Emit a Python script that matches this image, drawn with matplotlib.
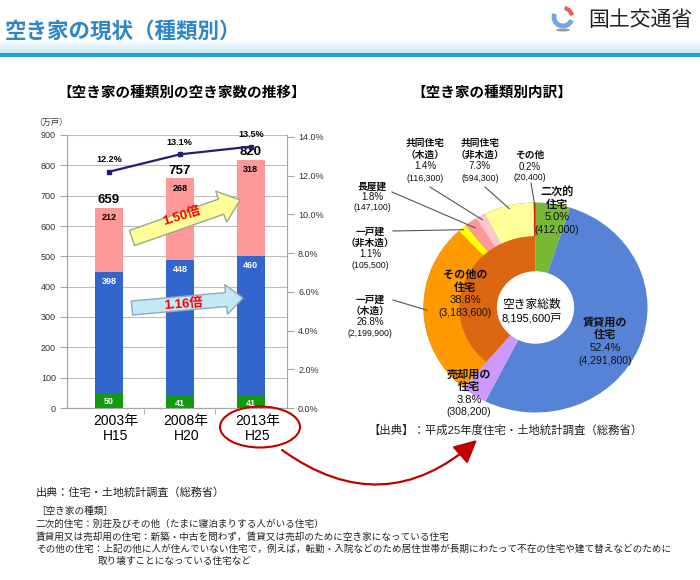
import numpy as np
import matplotlib
matplotlib.use('Agg')
import matplotlib.pyplot as plt
from matplotlib.patches import Polygon, Ellipse, FancyArrowPatch, Arc, Rectangle
from matplotlib.colors import LinearSegmentedColormap
from matplotlib.ticker import FuncFormatter

plt.rcParams['font.family'] = ['Liberation Sans', 'Noto Sans CJK JP', 'DejaVu Sans']

# ---- data: bar chart (万戸) ----
years = ['2003年\nH15', '2008年\nH20', '2013年\nH25']
second_homes = [50, 41, 41]
rental_sale = [398, 448, 460]
other_homes = [212, 268, 318]
totals = [659, 757, 820]
vacancy_rate = [12.2, 13.1, 13.5]
growth_labels = ['1.50倍', '1.16倍']

# ---- data: donut (戸) ----
main_names = ['二次的\n住宅', '賃貸用の\n住宅', '売却用の\n住宅', 'その他の\n住宅']
main_counts = [412000, 4291800, 308200, 3183600]
main_pct = [5.0, 52.4, 3.8, 38.8]
sub_names = ['一戸建\n（木造）', '一戸建\n（非木造）', '長屋建', '共同住宅\n（木造）', '共同住宅\n（非木造）', 'その他']
sub_counts = [2199900, 105500, 147100, 116300, 594300, 20400]
sub_pct = [26.8, 1.1, 1.8, 1.4, 7.3, 0.2]
total_count = 8195600

main_colors = ['#78B834', '#5783D6', '#CC99FF', '#DD6611']
sub_colors = ['#FF9900', '#FFFF00', '#FF9999', '#FFC8D0', '#FFFF99', '#FF0000']

fig = plt.figure(figsize=(7, 5.8), dpi=100)
fig.patch.set_facecolor('white')
grey = '#A6A6A6'

# ---- stacked bars ----
ax = fig.add_axes([67/700, 1-408/580, 220/700, 273/580])
x = np.arange(len(years))
w = 0.39
bot2 = np.array(second_homes)
bot3 = bot2 + np.array(rental_sale)
tops = bot3 + np.array(other_homes)
ax.bar(x, second_homes, w, color='#119911', zorder=2)
ax.bar(x, rental_sale, w, bottom=bot2, color='#3366CC', zorder=2)
ax.bar(x, other_homes, w, bottom=bot3, color='#FF9999', zorder=2)
ax.set_xlim(-0.59, 2.51)
ax.set_ylim(0, 900)
ax.set_yticks(range(0, 901, 100))
ax.yaxis.grid(True, color='#BFBFBF', lw=0.8)
ax.set_axisbelow(True)
ax.set_xticks(x + 0.09, years)
ax.set_xticks([0.5, 1.5], minor=True)
ax.tick_params(axis='x', which='major', length=0, pad=4, labelsize=10)
ax.tick_params(axis='x', which='minor', length=4, color=grey)
ax.tick_params(axis='y', length=5, color=grey, labelsize=6.5, labelcolor='#333333', pad=3)
for lbl in ax.get_xticklabels():
    lbl.set_linespacing(1.1)
for s in ['left', 'bottom', 'right']:
    ax.spines[s].set_color(grey)
ax.spines['top'].set_visible(False)

for i in x:
    ax.annotate(f'{totals[i]}', (i, tops[i]), xytext=(0, 1), textcoords='offset points',
                ha='center', va='bottom', fontsize=9.5, fontweight='bold')
    ax.annotate(f'{other_homes[i]}', (i, tops[i]), xytext=(0, -7), textcoords='offset points',
                ha='center', va='center', fontsize=6.5, fontweight='bold', color='black')
    ax.annotate(f'{rental_sale[i]}', (i, bot3[i]), xytext=(0, -7), textcoords='offset points',
                ha='center', va='center', fontsize=6.5, fontweight='bold', color='white')
    ax.annotate(f'{second_homes[i]}', (i, bot2[i]), xytext=(0, -6), textcoords='offset points',
                ha='center', va='center', fontsize=6.5, fontweight='bold', color='white')

ax2 = ax.twinx()
ax2.plot(x, vacancy_rate, color='#1F1F78', lw=1.6, marker='s', ms=3.5)
ax2.set_ylim(0, 14.1)
ax2.set_yticks(np.arange(0, 14.1, 2))
ax2.yaxis.set_major_formatter(FuncFormatter(lambda v, _: f'{v:.1f}%'))
ax2.tick_params(axis='y', length=5, color=grey, labelsize=6.5, labelcolor='#333333', pad=3)
for s in ['left', 'bottom', 'right']:
    ax2.spines[s].set_color(grey)
ax2.spines['top'].set_visible(False)
for i in x:
    ax2.annotate(f'{vacancy_rate[i]}%', (i, vacancy_rate[i]), xytext=(0, 8.5), textcoords='offset points',
                 ha='center', va='center', fontsize=6.5, fontweight='bold')

# ---- donut ----
CX, CY, RX, RY = 535.5, 307.5, 112, 105
axp = fig.add_axes([(CX-RX)/700, 1-(CY+RY)/580, 2*RX/700, 2*RY/580])
axp.pie(main_counts, colors=main_colors, radius=1, startangle=90, counterclock=False,
        wedgeprops=dict(width=0.655, linewidth=0))
axp.pie([sum(main_counts[:3])] + sub_counts, colors=['none'] + sub_colors, radius=1,
        startangle=90, counterclock=False, wedgeprops=dict(width=0.32, linewidth=0))
axp.set_aspect('auto')
axp.set_xlim(-1, 1)
axp.set_ylim(-1, 1)

# ---- overlay in pixel coordinates ----
ov = fig.add_axes([0, 0, 1, 1], zorder=10)
ov.patch.set_alpha(0)
band = LinearSegmentedColormap.from_list('band', ['#FFFFFF', '#CDEBF7'])
ov.imshow(np.linspace(0, 1, 30).reshape(-1, 1), extent=(0, 700, 53, 39), cmap=band, aspect='auto')
ov.add_patch(Rectangle((0, 53), 700, 4, color='#1CA3D8', lw=0))
ov.set_xlim(0, 700)
ov.set_ylim(580, 0)
ov.axis('off')

ov.text(5, 32, '空き家の現状（種類別）', fontsize=15.5, fontweight='bold', color='#2D86CC', va='center')
ov.add_patch(Arc((563, 17), 18, 18, theta1=20, theta2=200, lw=3.5, color='#6FA8DC'))
ov.add_patch(Arc((563, 17), 18, 18, theta1=280, theta2=350, lw=3, color='#E06060'))
ov.add_patch(Ellipse((563, 30), 14, 3, color='#999999', lw=0))
ov.text(588, 20, '国土交通省', fontsize=15, color='#222222', va='center')

ov.text(182, 93, '【空き家の種類別の空き家数の推移】', fontsize=10.5, fontweight='bold', ha='center', va='center')
ov.text(492, 93, '【空き家の種類別内訳】', fontsize=10.5, fontweight='bold', ha='center', va='center')
ov.text(51, 123, '（万戸）', fontsize=6, ha='center', va='center', color='#333333')


def block_arrow(tail, tip, shaft_w, head_w, head_l, face, edge):
    tail = np.array(tail, float)
    tip = np.array(tip, float)
    d = tip - tail
    u = d / np.hypot(*d)
    n = np.array([-u[1], u[0]])
    base = tip - u * head_l
    pts = [tail + n*shaft_w/2, base + n*shaft_w/2, base + n*head_w/2, tip,
           base - n*head_w/2, base - n*shaft_w/2, tail - n*shaft_w/2]
    ov.add_patch(Polygon(pts, closed=True, facecolor=face, edgecolor=edge, lw=1))


block_arrow((132, 238), (240, 200), 16, 33, 20, '#FFFF99', '#9AA88A')
block_arrow((132, 308), (243, 298), 14, 30, 17, '#C4E9F6', '#8FAAB8')
ov.text(182, 216, growth_labels[0], fontsize=9.5, fontweight='bold', color='#FF0000',
        ha='center', va='center', rotation=17)
ov.text(183, 305, growth_labels[1], fontsize=9.5, fontweight='bold', color='#FF0000',
        ha='center', va='center', rotation=4)

ov.add_patch(Ellipse((260, 427), 80, 41, fill=False, edgecolor='#C00000', lw=1.5))
ov.add_patch(FancyArrowPatch((282, 450), (477, 440), connectionstyle='arc3,rad=0.4',
                             arrowstyle='-|>,head_length=14,head_width=7', mutation_scale=1,
                             color='#C00000', lw=1.6, shrinkA=0, shrinkB=0))


def stack(xc, y0, lines, styles, step):
    for k, (t, (fs, fw)) in enumerate(zip(lines, styles)):
        ov.text(xc, y0 + k*step, t, ha='center', va='center', fontsize=fs, fontweight=fw, color='#111111')


def pie_px(r, ang):
    a = np.deg2rad(ang)
    return CX + RX*r*np.cos(a), CY - RY*r*np.sin(a)


# labels on the main wedges
main_pos = [(557, 192, 12.7), (605, 322, 13), (469, 375, 12.3), (465, 275, 12.7)]
for name, cnt, pct, (px, py, st) in zip(main_names, main_counts, main_pct, main_pos):
    parts = name.split('\n')
    lines = parts + [f'{pct}%', f'({cnt:,})']
    styles = [(8, 'bold')] * len(parts) + [(8, 'normal'), (7.5, 'normal')]
    stack(px, py, lines, styles, st)

ov.text(532, 305, '空き家総数', fontsize=8.5, ha='center', va='center')
ov.text(532, 318, f'{total_count:,}戸', fontsize=8, ha='center', va='center')

# labels for the sub-wedges of その他の住宅, with leader lines
sub_pos = [(370, 300, 11), (370, 232, 11), (372, 187, 10.5), (425, 143, 11.7), (480, 143, 11.7), (530, 155, 11.5)]
line_start = [(393, 300), (393, 231), (392, 192), (430, 187), (485, 187), (531, 183)]
line_r = [0.97, 0.98, 0.93, 0.96, 0.97, 0.98]
cum = sum(main_counts[:3])
for name, cnt, pct, (px, py, st), ls, r in zip(sub_names, sub_counts, sub_pct, sub_pos, line_start, line_r):
    parts = name.split('\n')
    lines = parts + [f'{pct}%', f'({cnt:,})']
    styles = [(7, 'bold')] * len(parts) + [(7, 'normal'), (6.3, 'normal')]
    stack(px, py, lines, styles, st)
    ang = 90 - 360 * (cum + cnt/2) / total_count
    ex, ey = pie_px(r, ang)
    ov.plot([ls[0], ex], [ls[1], ey], color='#555555', lw=0.8)
    cum += cnt

ov.text(368, 430, '【出典】：平成25年度住宅・土地統計調査（総務省）', fontsize=8.2, va='center', color='#222222')

# notes
ov.text(36, 493, '出典：住宅・土地統計調査（総務省）', fontsize=8, va='center', color='#222222')
notes = ['［空き家の種類］',
         '二次的住宅：別荘及びその他（たまに寝泊まりする人がいる住宅）',
         '賃貸用又は売却用の住宅：新築・中古を問わず，賃貸又は売却のために空き家になっている住宅',
         'その他の住宅：上記の他に人が住んでいない住宅で，例えば，転勤・入院などのため居住世帯が長期にわたって不在の住宅や建て替えなどのために']
for k, t in enumerate(notes):
    ov.text(36, 511 + k*12.7, t, fontsize=6.9, va='center', color='#222222')
ov.text(98, 561, '取り壊すことになっている住宅など', fontsize=6.9, va='center', color='#222222')

fig.savefig('out.png', dpi=100)
